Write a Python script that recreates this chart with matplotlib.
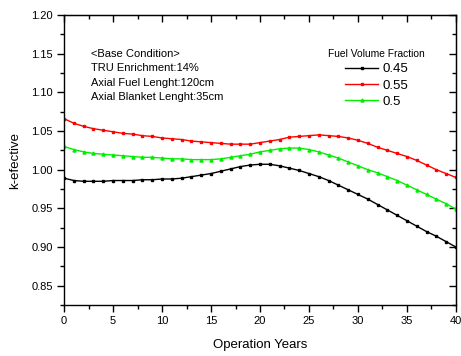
import matplotlib
matplotlib.use("Agg")
from matplotlib import pyplot as plt
from matplotlib.ticker import MultipleLocator, FormatStrFormatter

plt.rcParams["font.family"] = ["Liberation Sans", "DejaVu Sans"]

years = list(range(0, 41))

k_045 = [0.989, 0.986, 0.985, 0.985, 0.985, 0.986, 0.986, 0.986, 0.987, 0.987,
         0.988, 0.988, 0.989, 0.991, 0.993, 0.995, 0.998, 1.001, 1.004, 1.006,
         1.007, 1.007, 1.005, 1.002, 0.999, 0.995, 0.991, 0.986, 0.980, 0.974,
         0.968, 0.962, 0.955, 0.948, 0.941, 0.934, 0.927, 0.920, 0.914, 0.907,
         0.900]

k_055 = [1.066, 1.060, 1.056, 1.053, 1.051, 1.049, 1.047, 1.046, 1.044, 1.043,
         1.041, 1.040, 1.039, 1.037, 1.036, 1.035, 1.034, 1.033, 1.033, 1.033,
         1.035, 1.037, 1.039, 1.042, 1.043, 1.044, 1.045, 1.044, 1.043, 1.041,
         1.038, 1.034, 1.029, 1.025, 1.021, 1.017, 1.012, 1.006, 1.000, 0.995,
         0.990]

k_050 = [1.030, 1.026, 1.023, 1.021, 1.020, 1.019, 1.018, 1.017, 1.016, 1.016,
         1.015, 1.014, 1.014, 1.013, 1.013, 1.013, 1.014, 1.016, 1.018, 1.020,
         1.023, 1.025, 1.027, 1.028, 1.028, 1.026, 1.023, 1.019, 1.015, 1.010,
         1.005, 1.000, 0.996, 0.991, 0.986, 0.980, 0.974, 0.968, 0.962, 0.956,
         0.949]

note_lines = ["<Base Condition>", "TRU Enrichment:14%",
              "Axial Fuel Lenght:120cm", "Axial Blanket Lenght:35cm"]

fig = plt.figure(figsize=(4.61, 3.56), dpi=100)
ax = fig.add_axes([0.139, 0.143, 0.85, 0.815])

ax.plot(years, k_045, color="black", marker="s", markersize=1.6, linewidth=1, label="0.45")
ax.plot(years, k_055, color="red", marker="s", markersize=1.6, linewidth=1, label="0.55")
ax.plot(years, k_050, color="#00ee00", marker="^", markersize=2.2, linewidth=1, label="0.5")

ax.set_xlim(0, 40)
ax.set_ylim(0.825, 1.20)
ax.xaxis.set_major_locator(MultipleLocator(5))
ax.xaxis.set_minor_locator(MultipleLocator(2.5))
ax.yaxis.set_major_locator(MultipleLocator(0.05))
ax.yaxis.set_minor_locator(MultipleLocator(0.025))
ax.yaxis.set_major_formatter(FormatStrFormatter("%.2f"))
ax.tick_params(which="major", direction="out", length=5, width=1, labelsize=8, pad=3)
ax.tick_params(which="minor", direction="out", length=3, width=1)

# top and right axes with inward ticks
sec_x = ax.secondary_xaxis("top")
sec_x.xaxis.set_major_locator(MultipleLocator(5))
sec_x.xaxis.set_minor_locator(MultipleLocator(2.5))
sec_y = ax.secondary_yaxis("right")
sec_y.yaxis.set_major_locator(MultipleLocator(0.05))
sec_y.yaxis.set_minor_locator(MultipleLocator(0.025))
for sec in (sec_x, sec_y):
    sec.tick_params(which="major", direction="in", length=5, width=1,
                    labelbottom=False, labeltop=False, labelleft=False, labelright=False)
    sec.tick_params(which="minor", direction="in", length=3, width=1)

for sp in ax.spines.values():
    sp.set_linewidth(1)

ax.set_xlabel("Operation Years", fontsize=9.5, labelpad=9)
ax.set_ylabel("k-efective", fontsize=9.5, labelpad=7)

ax.text(0.068, 0.883, "\n".join(note_lines), transform=ax.transAxes,
        fontsize=8, va="top", ha="left", linespacing=1.55)

leg = ax.legend(loc="upper center", bbox_to_anchor=(0.798, 0.905), frameon=False,
                title="Fuel Volume Fraction", fontsize=9.5, title_fontsize=7.4,
                handlelength=2.5, handletextpad=0.3, labelspacing=0.3,
                borderpad=0)

fig.savefig("out.png", dpi=100)
